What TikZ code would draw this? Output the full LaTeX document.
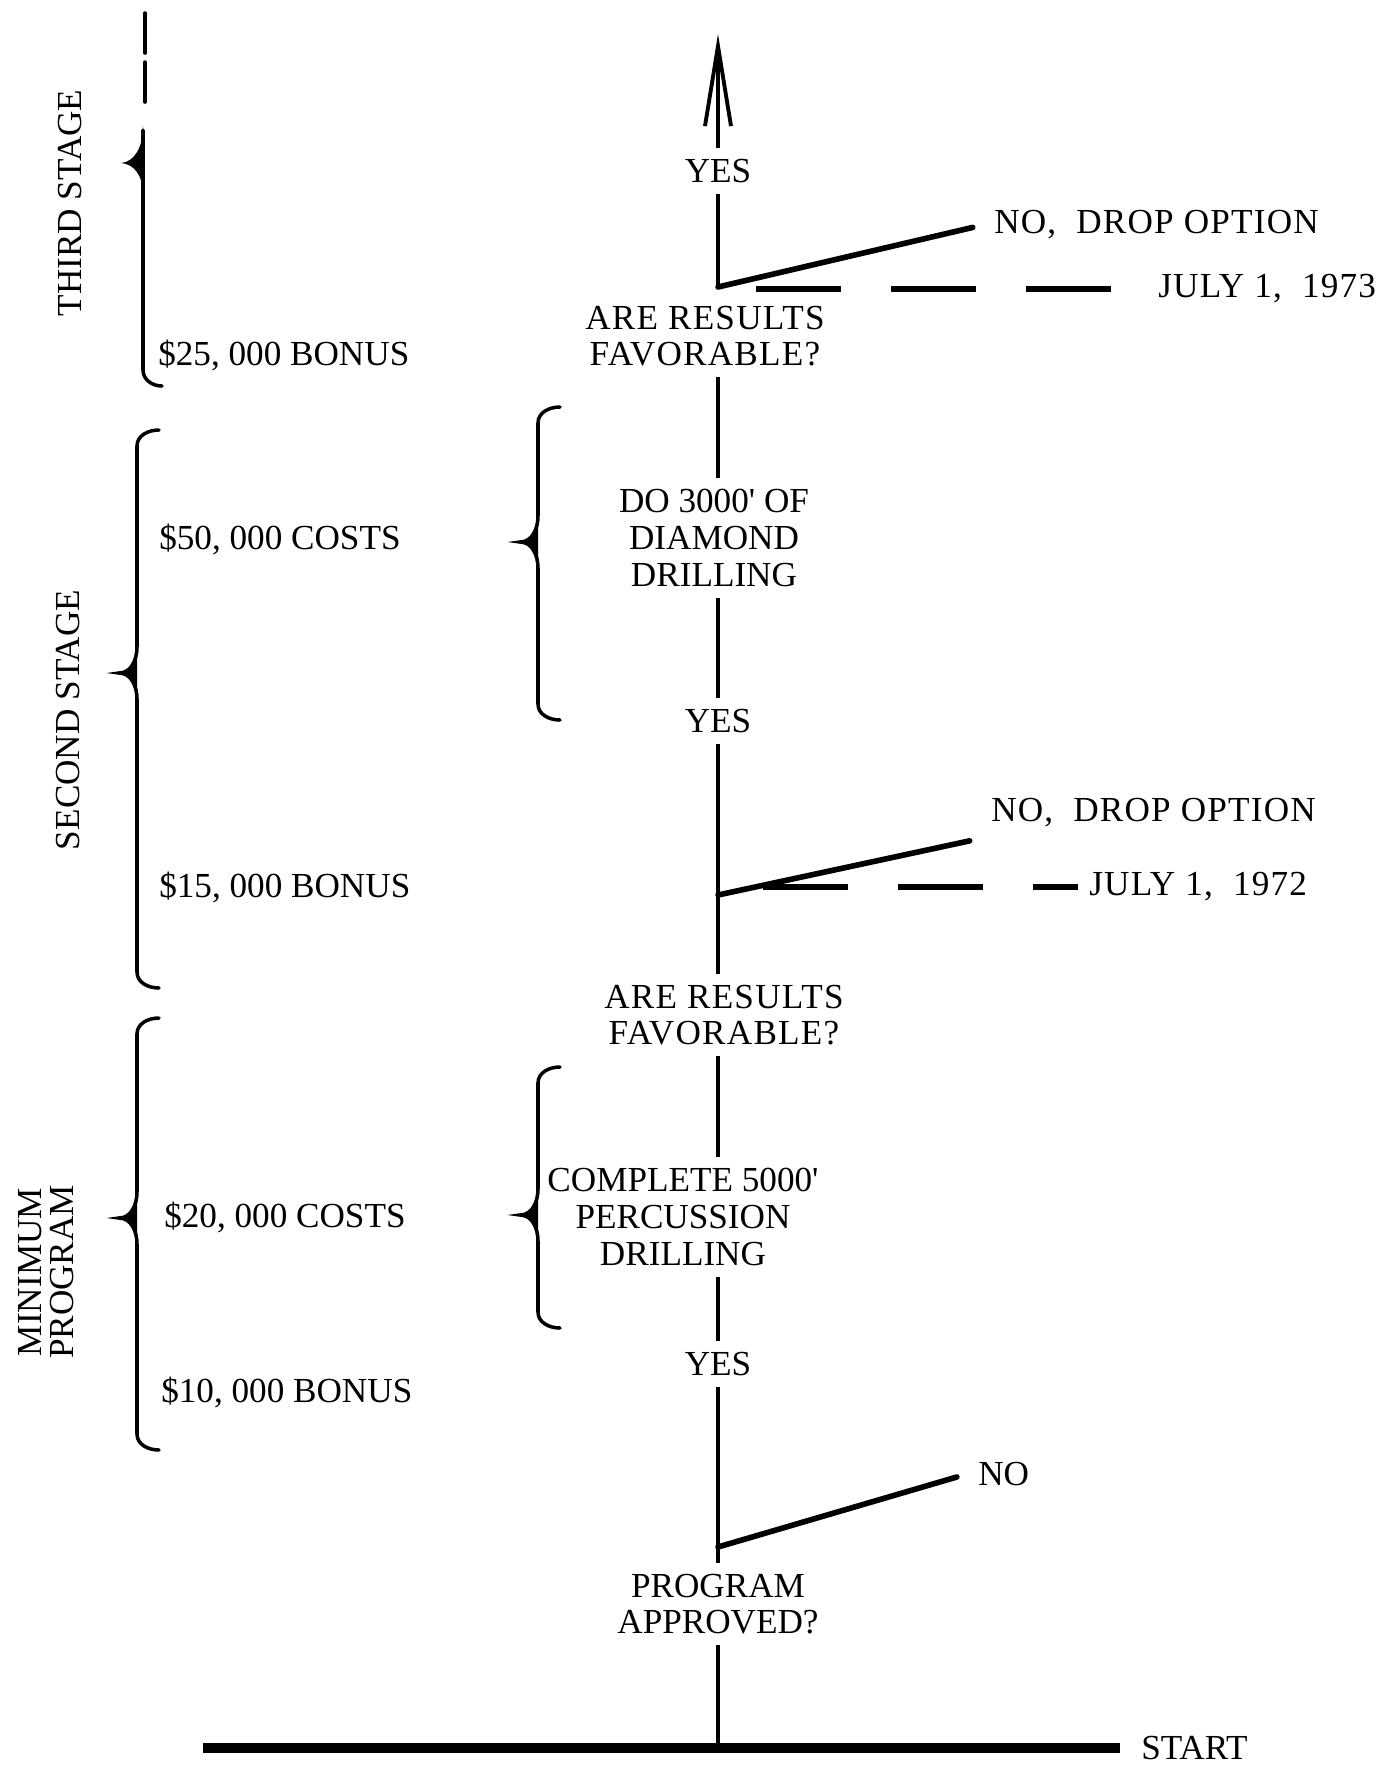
\documentclass[tikz,border=0pt]{standalone}
\usepackage{fontspec}
\setmainfont{Liberation Serif}
\newfontfamily\typedfont[LetterSpace=3.5]{Liberation Serif}
\usetikzlibrary{arrows.meta}
\usetikzlibrary{positioning}
\tikzset{>={Straight Barb[length=8mm,width=2.6mm]}}

% stem x, top y, point y, bottom y (picture units, y runs down)
\newcommand{\stagebrace}[4]{%
  \draw[bracepen] (#1+22,#2) to[out=180,in=90] (#1,#2+16) -- (#1,#3-26)
    to[out=-90,in=0] (#1-18,#3) to[out=0,in=90] (#1,#3+26) -- (#1,#4-16)
    to[out=-90,in=180] (#1+22,#4);
  \fill (#1,#3-26) .. controls (#1,#3-8) and (#1-6,#3) .. (#1-18,#3)
    .. controls (#1-6,#3) and (#1,#3+8) .. (#1,#3+26) -- cycle;
}

\begin{document}
\begin{tikzpicture}[x=0.01cm,y=-0.01cm]
        % y grows downward, one unit = one pixel of the sheet
        \tikzstyle{every node}=[font=\fontsize{10}{10.4}\selectfont, inner sep=3pt, align=center]
        \tikzstyle{typed}=[font=\typedfont\fontsize{10}{10.4}\selectfont]
        \tikzstyle{flow}=[line width=1.1pt]
        \tikzstyle{branch}=[line width=1.6pt, line cap=round, shorten >=3pt]
        \tikzstyle{deadline}=[line width=1.8pt, dash pattern=on 0.85cm off 0.5cm]
        \tikzstyle{bracepen}=[line width=1pt, line cap=round]
        \useasboundingbox (0,0) rectangle (1382,1765);

        % the spine
        \node (yesC) at (718,171) {YES};
        \node[typed] (favC) at (705,336) {ARE RESULTS\\FAVORABLE?};
        \node (diamond) at (714,538) {DO 3000\textquotesingle{} OF\\DIAMOND\\DRILLING};
        \node (yesB) at (718,721) {YES};
        \node[typed] (favB) at (724,1015) {ARE RESULTS\\FAVORABLE?};
        \node (percuss) at (683,1217) {COMPLETE 5000\textquotesingle\\PERCUSSION\\DRILLING};
        \node (yesA) at (718,1364) {YES};
        \node (approve) at (718,1604) {PROGRAM\\APPROVED?};

        \coordinate (tipC) at (718,34);
        \coordinate (cC) at (718,287);
        \coordinate (cB) at (718,895);
        \coordinate (cA) at (718,1547);
        \coordinate (groundL) at (203,1748);
        \coordinate (groundR) at (1120,1748);

        % the way out
        \node[typed, anchor=west] (dropC) at (983,225) {NO,\ \ DROP OPTION};
        \node[typed, anchor=west] (julyC) at (1147,289) {JULY 1,\ \ 1973};
        \node[typed, anchor=west] (dropB) at (980,813) {NO,\ \ DROP OPTION};
        \node[typed, anchor=west] (julyB) at (1078,887) {JULY 1,\ \ 1972};
        \node[anchor=west] (noA) at (967,1474) {NO};
        \node[right=0.1cm of groundR] (start) {START};

        % stages and money
        \node[rotate=90] (third) at (70,203) {THIRD STAGE};
        \node[rotate=90] (second) at (68,720) {SECOND STAGE};
        \node[rotate=90, font=\fontsize{10}{9}\selectfont] (minimum) at (46,1272) {MINIMUM\\PROGRAM};
        \node[anchor=west] (bonusC) at (147,355) {\$25, 000 BONUS};
        \node[anchor=west] (costB) at (148,539) {\$50, 000 COSTS};
        \node[anchor=west] (bonusB) at (148,887) {\$15, 000 BONUS};
        \node[anchor=west] (costA) at (153,1217) {\$20, 000 COSTS};
        \node[anchor=west] (bonusA) at (150,1392) {\$10, 000 BONUS};

        \draw[flow, ->] (yesC.north) -- (tipC);
        \draw[flow] (cC) -- (yesC.south);
        \draw[branch] (cC) -- (dropC.west);
        \draw[deadline, shorten <=0.38cm, shorten >=0.33cm] (julyC.west -| cC) -- (julyC.west);
        \draw[flow] (favC.south -| cC) -- (diamond.north -| cC);
        \draw[flow] (diamond.south -| cC) -- (yesB.north);
        \draw[flow] (yesB.south) -- (favB.north -| cB);
        \draw[branch] (cB) -- (dropB.south west);
        \draw[deadline, shorten <=0.45cm] (julyB.west -| cB) -- (julyB.west);
        \draw[flow] (favB.south -| cA) -- (percuss.north -| cA);
        \draw[flow] (percuss.south -| cA) -- (yesA.north);
        \draw[flow] (yesA.south) -- (approve.north);
        \draw[branch] (cA) -- (noA.west);
        \draw[flow] (approve.south) -- (approve.south |- groundL);
        \draw[line width=2.6pt] (groundL) -- (groundR);

        % braces
        \draw[bracepen, dash pattern=on 0.4cm off 0.09cm] (145,13) -- (145,110);
        \draw[bracepen] (143,130) -- (143,370) to[out=-90,in=180] (162,386);
        \fill (143,126) .. controls (143,148) and (134,162) .. (121,163)
                .. controls (134,164) and (143,175) .. (143,195) -- cycle;
        \stagebrace{137}{430}{673}{988}
        \stagebrace{538}{407}{542}{720}
        \stagebrace{137}{1018}{1218}{1450}
        \stagebrace{538}{1067}{1215}{1328}

\end{tikzpicture}
\end{document}
